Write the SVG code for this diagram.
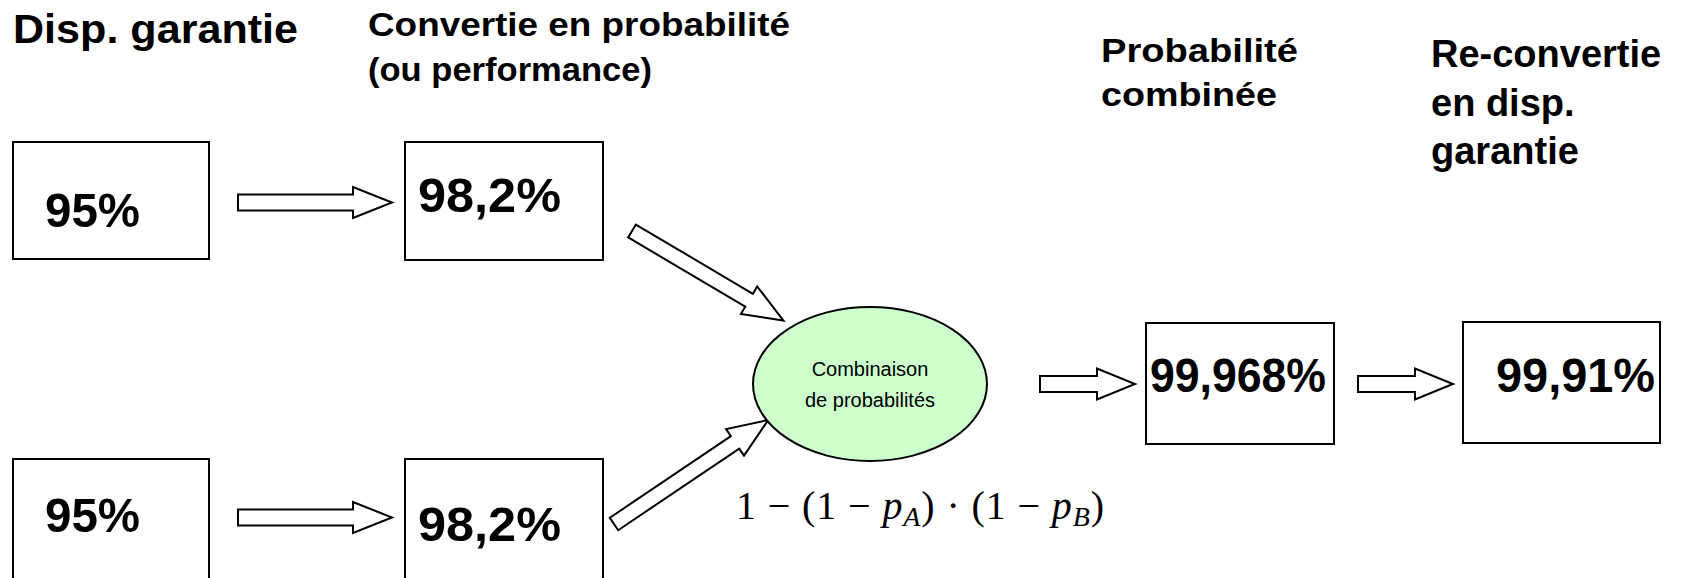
<svg xmlns="http://www.w3.org/2000/svg" width="1697" height="578" viewBox="0 0 1697 578">
  <style>
    .box { fill: #ffffff; stroke: #000000; stroke-width: 2; }
    .arrow { fill: #ffffff; stroke: #000000; stroke-width: 2; stroke-linejoin: miter; }
    .val { font-family: "Liberation Sans", Arial, sans-serif; font-weight: bold; font-size: 49px; fill: #000; }
    .head { font-family: "Liberation Sans", Arial, sans-serif; font-weight: bold; fill: #000; }
    .oval { fill: #ccffcc; stroke: #000000; stroke-width: 2; }
    .small { font-family: "Liberation Sans", Arial, sans-serif; font-size: 20px; fill: #000; }
    .math { font-family: "Liberation Serif", "Times New Roman", serif; font-size: 40px; fill: #000; }
  </style>
  <rect width="1697" height="578" fill="#ffffff"/>

  <!-- column headings -->
  <g id="headings">
    <text class="head" x="13" y="43" font-size="40" textLength="285" lengthAdjust="spacingAndGlyphs">Disp. garantie</text>
    <text class="head" x="368" y="36" font-size="34" textLength="422" lengthAdjust="spacingAndGlyphs">Convertie en probabilité</text>
    <text class="head" x="368" y="81" font-size="34" textLength="284" lengthAdjust="spacingAndGlyphs">(ou performance)</text>
    <text class="head" x="1101" y="62" font-size="34" textLength="197" lengthAdjust="spacingAndGlyphs">Probabilité</text>
    <text class="head" x="1101" y="106" font-size="34" textLength="176" lengthAdjust="spacingAndGlyphs">combinée</text>
    <text class="head" x="1431" y="67" font-size="38">Re-convertie</text>
    <text class="head" x="1431" y="116" font-size="38">en disp.</text>
    <text class="head" x="1431" y="164" font-size="38">garantie</text>
  </g>

  <!-- connectors: hollow block arrows -->
  <g id="connectors">
    <path class="arrow" d="M238,194.5 H353 V187 L392,202.5 L353,218 V210.5 H238 Z"/>
    <path class="arrow" d="M238,509.5 H353 V502 L392,517.5 L353,533 V525.5 H238 Z"/>
    <path class="arrow" d="M1040,376 H1097 V368.5 L1135,384 L1097,399.5 V392 H1040 Z"/>
    <path class="arrow" d="M1358,376 H1415 V368.5 L1453,384 L1415,399.5 V392 H1358 Z"/>
    <path class="arrow" transform="translate(632,231) rotate(30.6)" d="M0,-7.5 H136 V-16 L176,0 L136,16 V7.5 H0 Z"/>
    <path class="arrow" transform="translate(614,524) rotate(-34)" d="M0,-7.5 H146 V-16 L186,0 L146,16 V7.5 H0 Z"/>
  </g>

  <!-- input availabilities -->
  <g id="node-a1">
    <rect class="box" x="13" y="142" width="196" height="117"/>
    <text class="val" x="45" y="227" textLength="95" lengthAdjust="spacingAndGlyphs">95%</text>
  </g>
  <g id="node-a2">
    <rect class="box" x="13" y="459" width="196" height="130"/>
    <text class="val" x="45" y="532" textLength="95" lengthAdjust="spacingAndGlyphs">95%</text>
  </g>

  <!-- converted probabilities -->
  <g id="node-b1">
    <rect class="box" x="405" y="142" width="198" height="118"/>
    <text class="val" x="418" y="212" textLength="143" lengthAdjust="spacingAndGlyphs">98,2%</text>
  </g>
  <g id="node-b2">
    <rect class="box" x="405" y="459" width="198" height="130"/>
    <text class="val" x="418" y="541" textLength="143" lengthAdjust="spacingAndGlyphs">98,2%</text>
  </g>

  <!-- combination -->
  <g id="node-combine">
    <ellipse class="oval" cx="870" cy="384" rx="117" ry="77"/>
    <text class="small" x="870" y="376" text-anchor="middle">Combinaison</text>
    <text class="small" x="870" y="407" text-anchor="middle">de probabilités</text>
  </g>

  <g id="formula">
    <text class="math" x="736" y="519" textLength="368" lengthAdjust="spacing">1 − (1 − <tspan font-style="italic">p</tspan><tspan font-style="italic" font-size="28" dy="7">A</tspan><tspan dy="-7">) · (1 − </tspan><tspan font-style="italic">p</tspan><tspan font-style="italic" font-size="28" dy="7">B</tspan><tspan dy="-7">)</tspan></text>
  </g>

  <!-- combined probability and final availability -->
  <g id="node-c">
    <rect class="box" x="1146" y="323" width="188" height="121"/>
    <text class="val" x="1150" y="392" textLength="176" lengthAdjust="spacingAndGlyphs">99,968%</text>
  </g>
  <g id="node-d">
    <rect class="box" x="1463" y="322" width="197" height="121"/>
    <text class="val" x="1496" y="392" textLength="159" lengthAdjust="spacingAndGlyphs">99,91%</text>
  </g>
</svg>
